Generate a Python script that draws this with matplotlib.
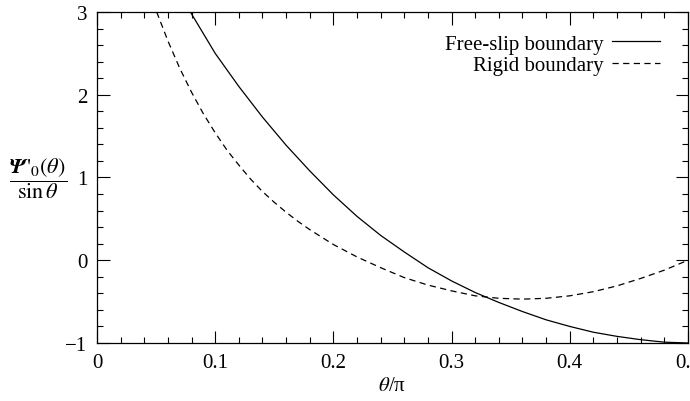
import matplotlib
matplotlib.use("Agg")
import matplotlib.pyplot as plt
from matplotlib.ticker import MultipleLocator

plt.rcParams['font.family'] = ['Liberation Serif', 'DejaVu Serif']
plt.rcParams['mathtext.fontset'] = 'stix'

# values
theta_free = [0.079, 0.10, 0.12, 0.14, 0.16, 0.18, 0.20, 0.22, 0.24, 0.26, 0.28,
              0.30, 0.32, 0.34, 0.36, 0.38, 0.40, 0.42, 0.44, 0.46, 0.48, 0.50]
psi_free = [3.0, 2.50, 2.10, 1.73, 1.39, 1.08, 0.79, 0.53, 0.30, 0.10, -0.09,
            -0.25, -0.39, -0.51, -0.62, -0.72, -0.80, -0.87, -0.92, -0.96, -0.99, -1.00]

theta_rigid = [0.0505, 0.06, 0.07, 0.08, 0.09, 0.10, 0.11, 0.12, 0.13, 0.14, 0.15,
               0.16, 0.17, 0.18, 0.19, 0.20, 0.22, 0.24, 0.26, 0.28, 0.30, 0.32,
               0.34, 0.36, 0.38, 0.40, 0.42, 0.44, 0.46, 0.48, 0.50]
psi_rigid = [3.0, 2.65, 2.32, 2.03, 1.77, 1.54, 1.33, 1.15, 0.98, 0.83, 0.70,
             0.58, 0.47, 0.37, 0.28, 0.19, 0.04, -0.09, -0.21, -0.30, -0.37, -0.43,
             -0.46, -0.47, -0.46, -0.43, -0.38, -0.31, -0.22, -0.12, 0.0]

xticks = [0, 0.1, 0.2, 0.3, 0.4, 0.5]
xticklabels = ['0', '0.1', '0.2', '0.3', '0.4', '0.5']
yticks = [-1, 0, 1, 2, 3]
yticklabels = ['\u22121', '0', '1', '2', '3']

fig = plt.figure(figsize=(6.9, 4.02), dpi=100)
ax = fig.add_axes([0.1406, 0.1443, 0.8564, 0.8234])

ax.plot(theta_free, psi_free, color='black', lw=0.9, label='Free-slip boundary')
ax.plot(theta_rigid, psi_rigid, color='black', lw=0.9, dashes=(5, 3.5), label='Rigid boundary')

ax.set_xlim(0, 0.5)
ax.set_ylim(-1, 3)
ax.set_xticks(xticks)
ax.set_xticklabels(xticklabels)
ax.set_yticks(yticks)
ax.set_yticklabels(yticklabels)
ax.xaxis.set_minor_locator(MultipleLocator(0.02))
ax.yaxis.set_minor_locator(MultipleLocator(0.2))
ax.tick_params(which='both', direction='in', top=True, right=True, labelsize=15, width=0.8)
ax.tick_params(which='major', length=9, pad=7)
ax.tick_params(which='minor', length=4.5)
for s in ax.spines.values():
    s.set_linewidth(0.9)

ax.set_xlabel(r'$\theta$/π', fontsize=15, labelpad=3)
ax.set_ylabel(r"$\dfrac{\mathbfit{\Psi}\,'_{0}(\theta)}{\sin\theta}$", fontsize=16, rotation=0)
ax.yaxis.set_label_coords(-0.1, 0.5)
ax.yaxis.label.set_verticalalignment('center')

ax.legend(loc='upper right', markerfirst=False, frameon=False, fontsize=15,
          handlelength=2.3, handletextpad=0.4, labelspacing=0.1,
          bbox_to_anchor=(0.985, 0.99))
for t in ax.get_legend().get_texts():
    t.set_ha('right')

fig.savefig('out.png', dpi=100)
